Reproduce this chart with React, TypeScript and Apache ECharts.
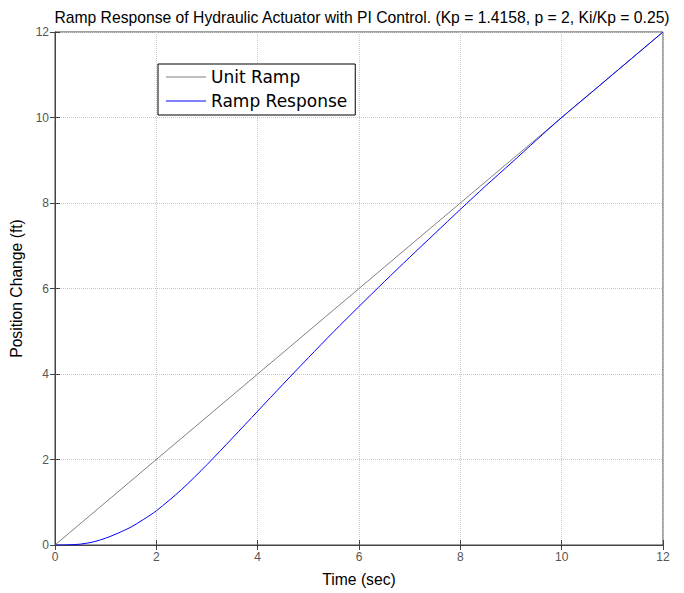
import React, { useEffect, useRef } from "react";
import * as echarts from "echarts";

const titleText = "Ramp Response of Hydraulic Actuator with PI Control. (Kp = 1.4158, p = 2, Ki/Kp = 0.25)";
const xAxisName = "Time (sec)";
const yAxisName = "Position Change (ft)";
const seriesNames = ["Unit Ramp", "Ramp Response"];

const rampTime = [0, 12];
const rampValues = [0, 12];

const responseTime = [0, 0.25, 0.5, 0.75, 1, 1.25, 1.5, 1.75, 2, 2.5, 3, 3.5, 4, 4.5, 5, 5.5, 6, 6.5, 7, 7.5, 8, 8.5, 9, 9.5, 10, 10.5, 11, 11.5, 12];
const responseValues = [0, 0.003, 0.02, 0.07, 0.16, 0.28, 0.42, 0.6, 0.8, 1.3, 1.88, 2.5, 3.13, 3.76, 4.38, 4.99, 5.58, 6.16, 6.73, 7.29, 7.85, 8.4, 8.93, 9.47, 10.0, 10.5, 11.0, 11.5, 12.0];

export default function App() {
  const ref = useRef<HTMLDivElement>(null);
  useEffect(() => {
    const chart = echarts.init(ref.current!, null, { renderer: "svg" });
    const font = "Liberation Sans, Arial, sans-serif";
    const legendFont = "DejaVu Sans, Verdana, sans-serif";
    const axisCommon = {
      type: "value" as const,
      min: 0,
      max: 12,
      interval: 2,
    };
    chart.setOption({
      animation: false,
      backgroundColor: "#fff",
      title: {
        text: titleText,
        left: 357,
        textAlign: "center",
        top: 4,
        textStyle: { fontSize: 15.7, fontWeight: "normal", color: "#000", fontFamily: font },
      },
      legend: {
        orient: "vertical",
        left: 158,
        top: 64,
        data: seriesNames,
        icon: "rect",
        itemWidth: 40,
        itemHeight: 1,
        itemGap: 0,
        padding: [1, 8, 2, 8],
        backgroundColor: "#fff",
        borderColor: "#000",
        borderWidth: 1,
        textStyle: { fontSize: 17, color: "#000", fontFamily: legendFont, lineHeight: 24 },
      },
      grid: {
        left: 55,
        right: 21,
        top: 32,
        bottom: 48,
        show: true,
        borderColor: "#444",
        borderWidth: 1,
        backgroundColor: "#fff",
      },
      xAxis: [
        {
          ...axisCommon,
          name: xAxisName,
          nameLocation: "middle",
          nameGap: 26,
          nameTextStyle: { fontSize: 15.7, color: "#000", fontFamily: font },
          axisLine: { show: true, lineStyle: { color: "#444" } },
          axisTick: { show: true, inside: true, length: 5, lineStyle: { color: "#444" } },
          axisLabel: { color: "#555", fontSize: 12, fontFamily: font, margin: 6 },
          splitLine: { show: true, lineStyle: { color: "#c8c8c8", type: "dotted", width: 1 } },
        },
        {
          ...axisCommon,
          position: "top",
          axisLine: { show: true, lineStyle: { color: "#444" } },
          axisTick: { show: true, inside: true, length: 5, lineStyle: { color: "#444" } },
          axisLabel: { show: false },
          splitLine: { show: false },
        },
      ],
      yAxis: [
        {
          ...axisCommon,
          name: yAxisName,
          nameLocation: "middle",
          nameGap: 29,
          nameTextStyle: { fontSize: 15.7, color: "#000", fontFamily: font },
          axisLine: { show: true, lineStyle: { color: "#444" } },
          axisTick: { show: true, inside: true, length: 5, lineStyle: { color: "#444" } },
          axisLabel: { color: "#555", fontSize: 12, fontFamily: font, margin: 6 },
          splitLine: { show: true, lineStyle: { color: "#c8c8c8", type: "dotted", width: 1 } },
        },
        {
          ...axisCommon,
          position: "right",
          axisLine: { show: true, lineStyle: { color: "#444" } },
          axisTick: { show: true, inside: true, length: 5, lineStyle: { color: "#444" } },
          axisLabel: { show: false },
          splitLine: { show: false },
        },
      ],
      series: [
        {
          name: seriesNames[0],
          type: "line",
          data: rampTime.map((t, i) => [t, rampValues[i]]),
          showSymbol: false,
          symbol: "none",
          lineStyle: { color: "#808080", width: 1 },
          itemStyle: { color: "#808080" },
        },
        {
          name: seriesNames[1],
          type: "line",
          data: responseTime.map((t, i) => [t, responseValues[i]]),
          showSymbol: false,
          symbol: "none",
          smooth: 0.3,
          lineStyle: { color: "#0000ff", width: 1 },
          itemStyle: { color: "#0000ff" },
        },
      ],
    });
    return () => chart.dispose();
  }, []);
  return <div ref={ref} style={{ position: "fixed", left: 0, top: 0, width: 684, height: 593 }} />;
}
